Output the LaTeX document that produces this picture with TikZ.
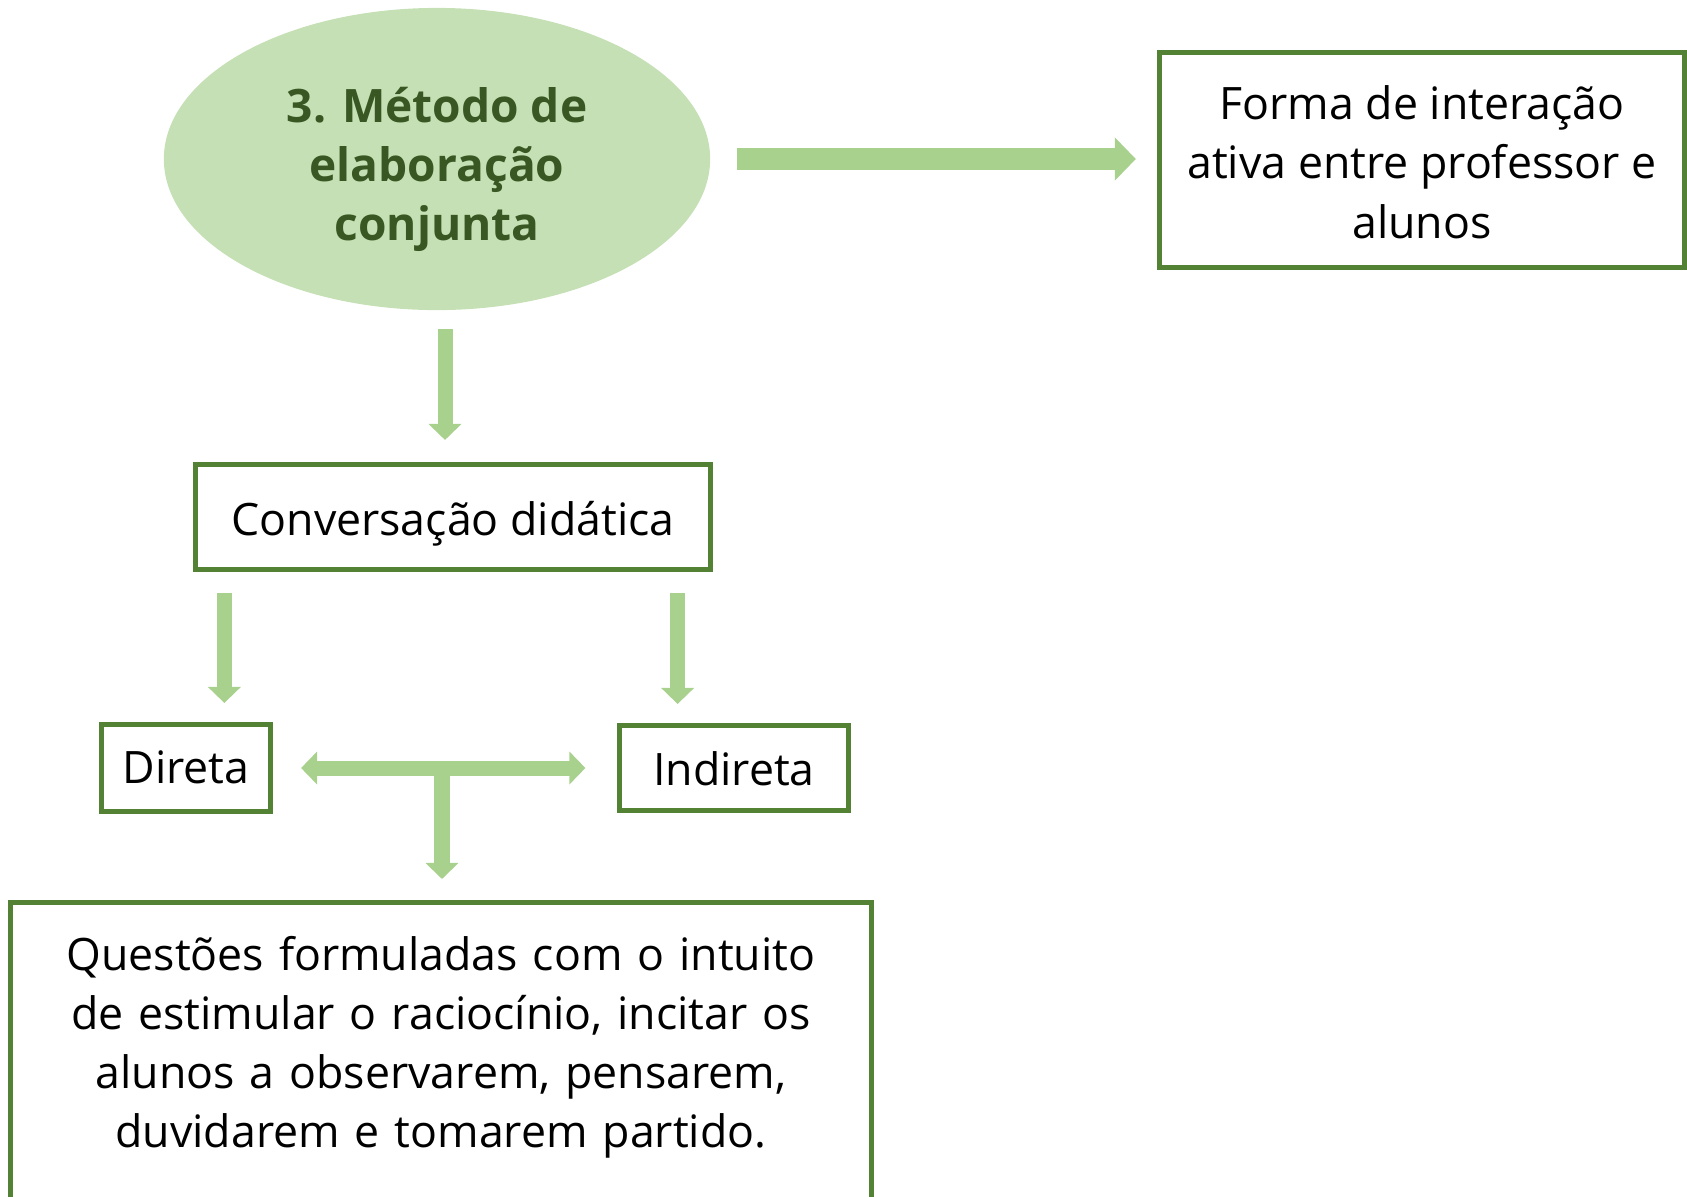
\documentclass[tikz,border=0pt]{standalone}
\usepackage{fontspec}
\setmainfont{Open Sans}
\usepackage{tikz}
\usetikzlibrary{arrows.meta,shapes.geometric}
\definecolor{elipsecol}{HTML}{C5E0B4}
\definecolor{setacol}{HTML}{A9D18E}
\definecolor{bordacol}{HTML}{548235}
\definecolor{titulocol}{HTML}{385723}
\tikzset{
  caixa/.style={rectangle, draw=bordacol, line width=0.05cm, align=center, inner sep=0pt,
    font=\fontsize{12.7}{16.8}\selectfont},
  elipse/.style={ellipse, fill=elipsecol, align=center, inner sep=0pt,
    font=\fontsize{13.1}{16.8}\selectfont\bfseries, text=titulocol},
  seta/.style={draw=setacol, line width=0.15cm, -{Triangle[width=0.32cm,length=0.16cm]}},
  setagrande/.style={draw=setacol, line width=0.22cm, -{Triangle[width=0.42cm,length=0.21cm]}}
}
\begin{document}
\begin{tikzpicture}[x=0.01cm, y=-0.01cm]
\clip (0,0) rectangle (1687,1196);
\draw (437,159) node[elipse, minimum width=5.46cm, minimum height=3.02cm,
  text height=1.73cm, text depth=0.1cm](metodo) {3. Método de\\elaboração\\conjunta} ;
\draw (1422,160) node[caixa, minimum width=5.25cm, minimum height=2.15cm,
  text height=1.66cm, text depth=0.1cm](forma) {Forma de interação\\ativa entre professor e\\alunos} ;
  \draw (453,517) node[caixa, minimum width=5.14cm, minimum height=1.05cm,
    text height=0.45cm, text depth=0.09cm](conversa) {Conversação didática} ;
    \draw (186,768) node[caixa, minimum width=1.69cm, minimum height=0.87cm,
      text height=0.4cm, text depth=0.1cm](direta) {Direta} ;
    \draw (734,768) node[caixa, minimum width=2.28cm, minimum height=0.85cm,
      text height=0.42cm, text depth=0.08cm](indireta) {Indireta} ;
      \draw (441,900) node[caixa, anchor=north, minimum width=8.6cm, text width=8.5cm,
        text height=0.68cm, text depth=3.5cm](questoes) {Questões formuladas com o intuito\\de estimular o raciocínio, incitar os\\alunos a observarem, pensarem,\\duvidarem e tomarem partido.} ;
\coordinate (esq) at ([xshift=0.31cm]conversa.south west);
\coordinate (dir) at ([xshift=-0.35cm]conversa.south east);
\coordinate (juncao) at (442,768);
\draw[setagrande, shorten <=0.26cm, shorten >=0.21cm] (metodo.east) -- (metodo.east -| forma.west) ;
\draw[seta, shorten <=0.18cm, shorten >=0.22cm] ([xshift=0.08cm]metodo.south) -- ([xshift=0.08cm]metodo.south |- conversa.north) ;
\draw[seta, shorten <=0.21cm, shorten >=0.19cm] (esq) -- (esq |- direta.north) ;
\draw[seta, shorten <=0.21cm, shorten >=0.19cm] (dir) -- (dir |- indireta.north) ;
\draw[seta, {Triangle[width=0.32cm,length=0.16cm]}-{Triangle[width=0.32cm,length=0.16cm]},
  shorten <=0.28cm, shorten >=0.32cm] (direta.east) -- (indireta.west) ;
\draw[seta, shorten >=0.21cm] (juncao) -- (juncao |- questoes.north) ;
\end{tikzpicture}
\end{document}
